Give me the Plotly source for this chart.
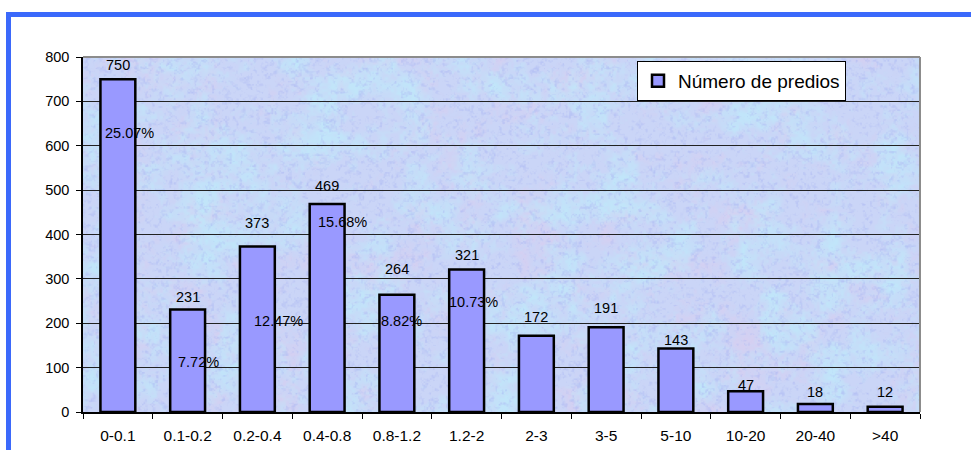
import base64
import struct
import zlib

import numpy as np
import plotly.graph_objects as go

# ---- data -------------------------------------------------------------
categories = ["0-0.1", "0.1-0.2", "0.2-0.4", "0.4-0.8", "0.8-1.2", "1.2-2",
              "2-3", "3-5", "5-10", "10-20", "20-40", ">40"]
predios = [750, 231, 373, 469, 264, 321, 172, 191, 143, 47, 18, 12]
pct_labels = ["25.07%", "7.72%", "12.47%", "15.68%", "8.82%", "10.73%"]
y_ticks = list(range(0, 801, 100))

# ---- label placement (pixels above bar top / free text boxes) ----------
value_lift = [14, 12, 23, 18, 26, 15, 19, 19, 9, 6, 12, 15]
pct_dx = [0.17, 0.15, 0.30, 0.22, 0.07, 0.10]
pct_y = [629, 113, 206, 428, 204, 249]

FONT = "Arial, Liberation Sans, sans-serif"


# ---- mottled paper texture for the plot area --------------------------
def _hash(a, b, s):
    v = np.sin(a * 12.9898 + b * 78.233 + s * 37.719) * 43758.5453
    return v - np.floor(v)


def _value_noise(xx, yy, scale, seed):
    gx, gy = xx / scale, yy / scale
    x0, y0 = np.floor(gx), np.floor(gy)
    fx, fy = gx - x0, gy - y0
    fx = fx * fx * (3 - 2 * fx)
    fy = fy * fy * (3 - 2 * fy)
    n00 = _hash(x0, y0, seed)
    n10 = _hash(x0 + 1, y0, seed)
    n01 = _hash(x0, y0 + 1, seed)
    n11 = _hash(x0 + 1, y0 + 1, seed)
    return (n00 * (1 - fx) + n10 * fx) * (1 - fy) + (n01 * (1 - fx) + n11 * fx) * fy


def _texture(w, h):
    yy, xx = np.mgrid[0:h, 0:w].astype(float)
    pink = 0.5 * _value_noise(xx, yy, 26, 1) + 0.3 * _value_noise(xx, yy, 9, 2) + 0.2 * _value_noise(xx, yy, 3, 3)
    cyan = 0.5 * _value_noise(xx, yy, 30, 4) + 0.3 * _value_noise(xx, yy, 10, 5) + 0.2 * _value_noise(xx, yy, 3, 6)
    deep = 0.6 * _value_noise(xx, yy, 3.5, 7) + 0.4 * _value_noise(xx, yy, 1.6, 8)
    base = np.array([202, 213, 247], float)
    pink_c = np.array([226, 202, 236], float)
    cyan_c = np.array([190, 235, 251], float)
    deep_c = np.array([170, 182, 243], float)
    wp = np.clip((pink - 0.52) * 2.5, 0, 1)[..., None] * 0.5
    wc = np.clip((cyan - 0.42) * 2.5, 0, 1)[..., None] * 0.75
    wd = np.clip((deep - 0.54) * 2.5, 0, 1)[..., None] * 0.55
    c = np.broadcast_to(base, (h, w, 3)).copy()
    c = c * (1 - wp) + pink_c * wp
    c = c * (1 - wc) + cyan_c * wc
    c = c * (1 - wd) + deep_c * wd
    return np.clip(c, 0, 255).astype(np.uint8)


def _png_uri(arr):
    h, w, _ = arr.shape
    raw = b"".join(b"\x00" + arr[r].tobytes() for r in range(h))

    def chunk(tag, data):
        return (struct.pack(">I", len(data)) + tag + data
                + struct.pack(">I", zlib.crc32(tag + data) & 0xFFFFFFFF))

    png = (b"\x89PNG\r\n\x1a\n"
           + chunk(b"IHDR", struct.pack(">IIBBBBB", w, h, 8, 2, 0, 0, 0))
           + chunk(b"IDAT", zlib.compress(raw, 9))
           + chunk(b"IEND", b""))
    return "data:image/png;base64," + base64.b64encode(png).decode()


# ---- figure -----------------------------------------------------------
fig = go.Figure()
fig.add_trace(go.Bar(
    x=categories,
    y=predios,
    name="Número de predios",
    width=0.5,
    marker=dict(color="#9999FF", line=dict(color="black", width=2.5)),
    showlegend=True,
))

annotations = []
for cat, v, lift in zip(categories, predios, value_lift):
    annotations.append(dict(
        x=cat, y=v, text=str(v), showarrow=False, yanchor="middle",
        yshift=lift, font=dict(family=FONT, size=14.5, color="black")))
for i, (txt, dx, yv) in enumerate(zip(pct_labels, pct_dx, pct_y)):
    annotations.append(dict(
        x=i + dx, y=yv, text=txt, showarrow=False, yanchor="middle",
        font=dict(family=FONT, size=14.5, color="black")))

# paper-coordinate helpers for the frame drawn around the chart
L, R, T, B, W, H = 83, 51, 57, 38, 971, 450
PW, PH = W - L - R, H - T - B


def px(xp):
    return (xp - L) / PW


def py(yp):
    return (H - B - yp) / PH


blue = "#3B69FB"
shapes = [
    # outer blue frame (top and left edges)
    dict(type="line", xref="paper", yref="paper", x0=px(6), x1=px(975),
         y0=py(14.5), y1=py(14.5), line=dict(color=blue, width=5)),
    dict(type="line", xref="paper", yref="paper", x0=px(8.5), x1=px(8.5),
         y0=py(12), y1=py(455), line=dict(color=blue, width=5)),
    # grey plot-area border on top and right
    dict(type="line", xref="paper", yref="paper", x0=0, x1=1, y0=1, y1=1,
         line=dict(color="#8C8C8C", width=2)),
    dict(type="line", xref="paper", yref="paper", x0=1, x1=1, y0=0, y1=1,
         line=dict(color="#8C8C8C", width=2)),
]

fig.update_layout(
    width=W, height=H, autosize=False,
    margin=dict(l=L, r=R, t=T, b=B, pad=0),
    paper_bgcolor="white",
    plot_bgcolor="rgba(0,0,0,0)",
    font=dict(family=FONT, size=14, color="black"),
    bargap=0.5,
    images=[dict(source=_png_uri(_texture(PW, PH)), xref="paper", yref="paper",
                 x=0, y=1, sizex=1, sizey=1, sizing="stretch",
                 xanchor="left", yanchor="top", layer="below")],
    annotations=annotations,
    shapes=shapes,
    legend=dict(x=px(637), y=py(61), xanchor="left", yanchor="top",
                bgcolor="white", bordercolor="black", borderwidth=1,
                font=dict(family=FONT, size=19, color="black"),
                itemwidth=30, tracegroupgap=0),
)
fig.update_xaxes(
    type="category", range=[-0.5, len(categories) - 0.5],
    showgrid=False, zeroline=False, automargin=False,
    showline=True, linecolor="black", linewidth=1.5,
    ticks="outside", tickson="boundaries", ticklen=5, tickcolor="black",
    tickfont=dict(family=FONT, size=15.5, color="black"),
    ticklabelstandoff=9,
)
fig.update_yaxes(
    range=[0, 800], tickvals=y_ticks, automargin=False,
    showgrid=True, gridcolor="#222222", gridwidth=1, zeroline=False,
    showline=True, linecolor="black", linewidth=1.5,
    ticks="outside", ticklen=5, tickcolor="black",
    tickfont=dict(family=FONT, size=14.5, color="black"),
    ticklabelstandoff=4,
)

fig.write_html("out.html")
